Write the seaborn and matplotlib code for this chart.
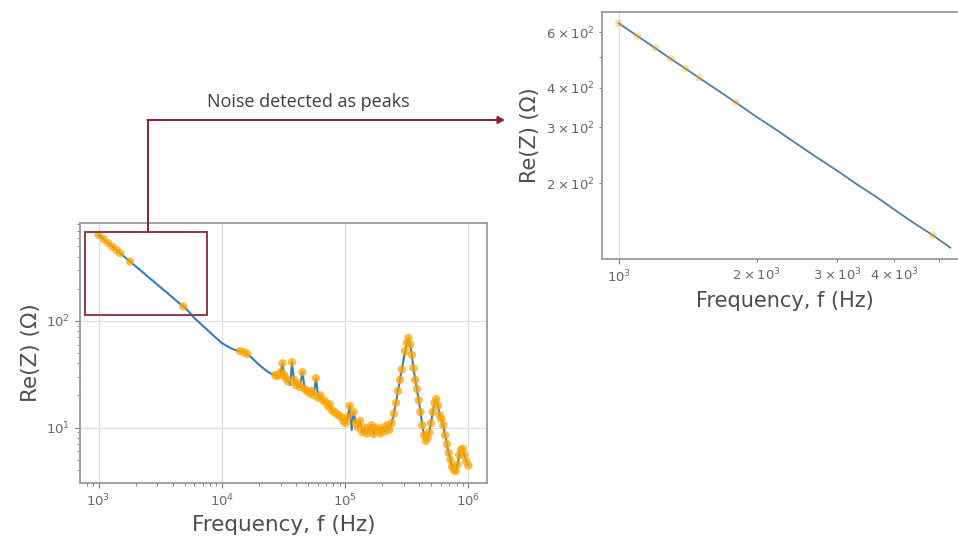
import numpy as np
import pandas as pd
import matplotlib
matplotlib.use("Agg")
import matplotlib.pyplot as plt
import seaborn as sns
from matplotlib.patches import Rectangle, FancyArrowPatch
from matplotlib.lines import Line2D

# ---------------- data ----------------
freq_hz = [
    1000, 1100, 1200, 1300, 1400, 1500, 1650, 1800, 2000, 2200, 2450, 2700,
    3000, 3300, 3650, 4000, 4400, 4850, 5300,
    6000, 7000, 8000, 9000, 10000, 11000, 12000, 13000, 14000, 15000, 16000,
    17500, 19000, 21000, 23000, 25000,
    27000, 28000, 29000, 30000, 31000, 32000, 33000, 34500, 36000, 37000,
    38500, 40000, 41500, 43000, 45000, 47000, 49000, 51000, 53000, 55500,
    58000, 60500, 63000, 66000, 69000, 72000, 75000, 78000, 81500, 85000,
    89000, 93000, 97000, 101000, 105000, 109000, 113000, 117000, 122000,
    127000, 132000, 138000, 144000, 150000, 156000, 163000, 170000, 177000,
    185000, 193000, 201000, 210000, 219000, 228000, 238000, 248000, 258000,
    268000, 278000, 288000, 297000, 306000, 316000, 326000, 336000, 347000,
    358000, 370000, 382000, 395000, 408000, 422000, 436000, 450000, 465000,
    480000, 496000, 513000, 530000, 548000, 566000, 585000, 605000, 625000,
    646000, 668000, 690000, 713000, 737000, 762000, 788000, 814000, 841000,
    869000, 898000, 928000, 959000, 1000000,
]
re_z_ohm = [
    640, 583, 535, 494, 460, 430, 392, 360, 324, 296, 266, 242,
    219, 199, 181, 165, 150, 137, 125,
    106, 90, 78, 69, 62, 58, 55, 53, 52, 51, 49,
    45, 41, 37, 34, 32,
    31, 30.5, 31, 33, 40, 31, 29, 27, 25, 41,
    28, 25, 26, 24, 33, 23, 22, 21, 22, 20,
    29, 19, 20, 18, 17.5, 16, 16.5, 14.5, 14, 13.5,
    13, 12.5, 11.5, 11, 12.5, 16, 9.5, 14, 11,
    10, 11.5, 9, 10, 8.8, 9.5, 10.5, 8.7, 10,
    9.5, 8.8, 10, 9.2, 10.5, 9.5, 11, 13.5, 17,
    22, 28, 35, 42, 52, 62, 69, 60, 48,
    36, 28, 23, 18, 14, 10.5, 8.5, 7.5, 8,
    9, 11, 14, 17, 18.5, 16, 13, 12, 10.5,
    8.5, 7, 5.8, 5, 4.3, 4, 3.9, 4.5, 5.5,
    6.2, 6.3, 5.5, 4.8, 4.4,
]
# frequencies flagged as (noise) peaks
peak_freq_hz = [
    1000, 1100, 1200, 1300, 1400, 1500, 1800, 4850,
    14000, 15000, 16000,
    27000, 28000, 29000, 30000, 31000, 32000, 33000, 34500, 37000,
    38500, 40000, 41500, 43000, 45000, 47000, 49000, 51000, 53000, 55500,
    58000, 60500, 63000, 66000, 69000, 72000, 75000, 78000, 81500, 85000,
    89000, 93000, 97000, 101000, 105000, 109000, 117000, 122000,
    127000, 132000, 138000, 144000, 150000, 156000, 163000, 170000, 177000,
    185000, 193000, 201000, 210000, 219000, 228000, 238000, 248000, 258000,
    268000, 278000, 288000, 306000, 316000, 326000, 336000, 347000,
    358000, 370000, 382000, 395000, 408000, 422000, 436000, 450000, 465000,
    480000, 496000, 513000, 530000, 548000, 566000, 585000, 605000, 625000,
    646000, 668000, 690000, 713000, 737000, 762000, 788000, 814000, 841000,
    869000, 898000, 928000, 959000, 1000000,
]
zoom_max_hz = 5300

x_label = "Frequency, f (Hz)"
y_label = "Re(Z) (Ω)"
note_text = "Noise detected as peaks"

# ---------------- style ----------------
sns.set_theme(style="whitegrid", rc={
    "axes.edgecolor": "0.6",
    "axes.linewidth": 1.3,
    "grid.color": "0.87",
    "grid.linewidth": 0.9,
    "xtick.bottom": True,
    "ytick.left": True,
    "xtick.color": "0.45",
    "ytick.color": "0.45",
    "xtick.major.size": 3.5,
    "ytick.major.size": 3.5,
    "xtick.minor.size": 2.0,
    "ytick.minor.size": 2.0,
    "xtick.major.width": 0.8,
    "ytick.major.width": 0.8,
    "xtick.minor.width": 0.6,
    "ytick.minor.width": 0.6,
    "axes.labelcolor": "0.3",
})
plt.rcParams["font.family"] = ["DejaVu Sans"]

line_color = "#2f7fc0"
peak_color = "#FFA500"

df = pd.DataFrame({"f": freq_hz, "re": re_z_ohm})
peaks = df[df["f"].isin(peak_freq_hz)]
df_zoom = df[df["f"] <= zoom_max_hz]
peaks_zoom = peaks[peaks["f"] <= zoom_max_hz]

W, H = 958, 539
fig = plt.figure(figsize=(W / 100, H / 100), dpi=100)
ax1 = fig.add_axes([80 / W, 1 - 483 / H, 407 / W, 260 / H])
ax2 = fig.add_axes([602 / W, 1 - 259 / H, 365 / W, 247 / H])

for ax in (ax1, ax2):
    ax.set_xscale("log")
    ax.set_yscale("log")

sns.lineplot(data=df, x="f", y="re", ax=ax1, color=line_color, lw=1.5,
             estimator=None, sort=True)
sns.scatterplot(data=peaks, x="f", y="re", ax=ax1, color=peak_color, s=36,
                alpha=0.75, edgecolor="none", zorder=3)

sns.lineplot(data=df_zoom, x="f", y="re", ax=ax2, color="#4f7f9f", lw=1.3,
             estimator=None, sort=True)
sns.scatterplot(data=peaks_zoom, x="f", y="re", ax=ax2, color=peak_color, s=30,
                alpha=0.35, edgecolor="none", zorder=3)

for ax, fs in ((ax1, 15.5), (ax2, 15)):
    ax.set_xlabel(x_label, fontsize=fs)
    ax.set_ylabel(y_label, fontsize=fs)
    ax.tick_params(axis="both", which="both", labelsize=9.5, labelcolor="0.4")
    ax.grid(True, which="major")
    ax.grid(False, which="minor")

# highlight rectangle on the main plot (annotation, does not change limits)
rect = Rectangle((783, 114), 7600 - 783, 680 - 114, fill=False,
                 edgecolor="#8c3a4a", lw=1.4, zorder=4,
                 transform=ax1.transData)
ax1.add_artist(rect)

# connector arrow in figure pixel space
def fx(px):
    return px / W

def fy(py):
    return 1 - py / H

arrow_color = "#8b2232"
fig.add_artist(Line2D([fx(148), fx(148)], [fy(231), fy(120)],
                      color=arrow_color, lw=1.4, transform=fig.transFigure))
fig.add_artist(FancyArrowPatch(
    (fx(147.3), fy(120)), (fx(505), fy(120)), transform=fig.transFigure,
    arrowstyle="-|>,head_length=4,head_width=2.2", color=arrow_color, lw=1.4,
    shrinkA=0, shrinkB=0))
fig.text(fx(308), fy(102), note_text, ha="center", va="center",
         fontsize=13, color="#3a3f3f", family=["Open Sans", "DejaVu Sans"])

fig.savefig("out.png", dpi=100)
